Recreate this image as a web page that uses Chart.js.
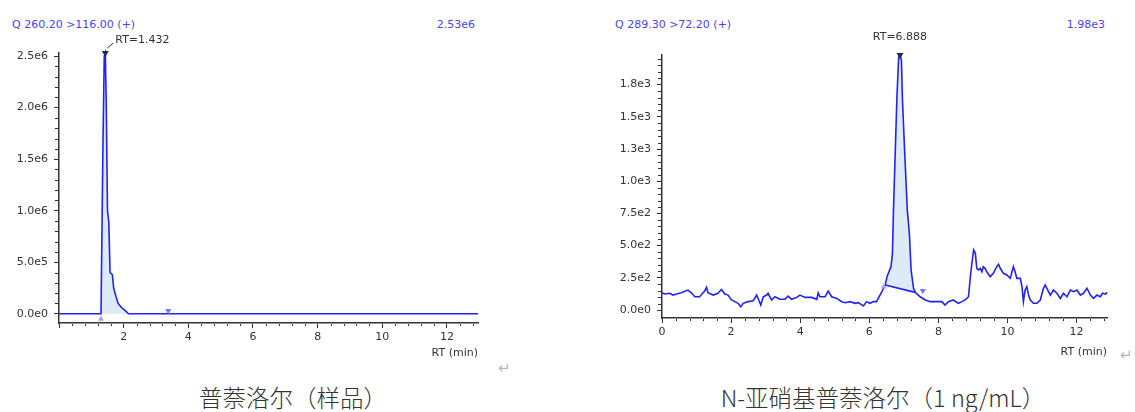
<!DOCTYPE html>
<html lang="zh">
<head>
<meta charset="utf-8">
<title>普萘洛尔 / N-亚硝基普萘洛尔</title>
<script src="https://cdn.jsdelivr.net/npm/chart.js@4.4.1/dist/chart.umd.min.js"></script>
<style>
  html, body { margin: 0; padding: 0; background: #fff; }
  body { position: relative; width: 1135px; height: 412px; overflow: hidden; font-family: "DejaVu Sans", sans-serif; }
  canvas { position: absolute; top: 0; }
  #chartSample { left: 0; }
  #chartStd { left: 600px; }
  .trace-id, .trace-max { position: absolute; top: 18px; font-size: 11px; line-height: 14px; color: #4646f0; white-space: nowrap; }
  .caption { position: absolute; top: 383px; font-family: "Noto Sans CJK SC", sans-serif; font-weight: 300; font-size: 23.5px; line-height: 28px; color: #333; white-space: nowrap; transform: translateX(-50%); }
  .para { position: absolute; font-size: 15px; line-height: 18px; color: #b4b4b4; }
</style>
</head>
<body>
<div class="trace-id" style="left:12px">Q 260.20 &gt;116.00 (+)</div>
<div class="trace-max" style="right:660px">2.53e6</div>
<div class="trace-id" style="left:615px">Q 289.30 &gt;72.20 (+)</div>
<div class="trace-max" style="right:30px">1.98e3</div>

<canvas id="chartSample" width="500" height="365"></canvas>
<canvas id="chartStd" width="535" height="365"></canvas>

<div class="caption" style="left:293px">普萘洛尔（样品）</div>
<div class="caption" style="left:883px">N-亚硝基普萘洛尔（1 ng/mL）</div>
<div class="para" style="left:498px; top:359px">↵</div>
<div class="para" style="left:1120px; top:346px">↵</div>

<script>
// retention-time axis, shared by both traces
const rtTicks = [0, 2, 4, 6, 8, 10, 12];

// ---- 普萘洛尔 (样品), Q 260.20 > 116.00 ----
const sampleTime   = [0, 1.30, 1.33, 1.36, 1.40, 1.432, 1.46, 1.50, 1.54, 1.58, 1.65, 1.69, 1.76, 1.83, 1.93, 2.05, 2.15, 12.96];
const sampleSignal = [0, 0, 0, 1.65e6, 2.50e6, 2.53e6, 2.07e6, 1.0e6, 0.89e6, 0.40e6, 0.38e6, 0.25e6, 0.17e6, 0.10e6, 0.06e6, 0.03e6, 0, 0];
const sampleYTicks = [0, 0.5e6, 1.0e6, 1.5e6, 2.0e6, 2.5e6];
const sampleApex   = [1.432, 2.53e6];
const sampleWindow = [1.33, 2.15];
const sampleFlags  = [[1.30, -0.05e6], [3.38, 0.03e6]];

// ---- N-亚硝基普萘洛尔 (1 ng/mL), Q 289.30 > 72.20 ----
const stdTime = [
  0.00, 0.08, 0.22, 0.32, 0.42, 0.56, 0.75, 0.85, 0.95, 1.09, 1.24, 1.29, 1.33, 1.48, 1.62, 1.72, 1.82, 1.91,
  2.01, 2.11, 2.20, 2.28, 2.35, 2.49, 2.64, 2.74, 2.80, 2.86, 2.93, 3.03, 3.07, 3.17, 3.27, 3.41, 3.56, 3.65,
  3.75, 3.90, 3.99, 4.14, 4.33, 4.48, 4.52, 4.57, 4.72, 4.81, 4.91, 5.06, 5.20, 5.30, 5.44, 5.59, 5.68, 5.83,
  5.92, 6.02, 6.12, 6.21, 6.31, 6.38, 6.46, 6.52, 6.58, 6.63, 6.67, 6.70, 6.75, 6.80, 6.85, 6.888, 6.93, 6.96,
  7.03, 7.10, 7.16, 7.21, 7.28, 7.33, 7.40, 7.47, 7.62, 7.76, 7.95, 8.10, 8.19, 8.29, 8.43, 8.58, 8.68, 8.77,
  8.87, 8.94, 9.02, 9.07, 9.11, 9.16, 9.21, 9.26, 9.30, 9.35, 9.40, 9.50, 9.59, 9.69, 9.74, 9.79, 9.88, 9.98,
  10.08, 10.13, 10.17, 10.22, 10.27, 10.37, 10.42, 10.46, 10.51, 10.56, 10.61, 10.66, 10.75, 10.85, 10.95,
  11.04, 11.09, 11.14, 11.24, 11.33, 11.43, 11.53, 11.62, 11.72, 11.82, 11.91, 12.01, 12.11, 12.20, 12.30,
  12.40, 12.49, 12.59, 12.69, 12.75, 12.84, 12.88
];
const stdSignal = [
  134, 124, 130, 116, 124, 134, 155, 134, 103, 103, 150, 176, 134, 116, 130, 160, 124, 116,
  78, 65, 52, 26, 52, 65, 72, 116, 78, 39, 103, 116, 130, 78, 103, 83, 83, 108,
  83, 98, 116, 98, 98, 83, 134, 103, 103, 147, 103, 90, 65, 57, 65, 52, 57, 31,
  65, 52, 65, 65, 116, 150, 194, 265, 305, 340, 440, 776, 1217, 1656, 1960, 1980, 1940, 1630,
  1190, 776, 595, 310, 168, 137, 120, 103, 78, 65, 65, 65, 39, 65, 78, 52, 65, 78,
  103, 297, 466, 440, 324, 311, 324, 297, 336, 324, 297, 259, 285, 336, 355, 324, 285, 272,
  246, 297, 336, 297, 246, 246, 181, 65, 155, 181, 116, 78, 52, 52, 78,
  168, 194, 168, 116, 155, 130, 90, 130, 103, 155, 142, 155, 116, 130, 168,
  116, 90, 116, 103, 130, 123, 138
];
const stdYTicks   = [0, 250, 500, 750, 1000, 1250, 1500, 1750];
const stdApex     = [6.888, 1980];
const stdBaseline = [[6.46, 194], [7.33, 137]];
const stdFlags    = [[6.42, 180], [7.55, 150]];

const ink = '#333333';
const traceBlue = '#2222f8';
const areaBlue = '#dcebf5';
const tickFont = { family: 'DejaVu Sans', size: 11 };

function toPoints(xs, ys) {
  return xs.map((x, i) => ({ x: x, y: ys[i] }));
}

function inWindow(points, win) {
  return points.filter(p => p.x >= win[0] && p.x <= win[1]);
}

function sci(v) {
  return v.toExponential(1).replace('+', '');
}

// short unlabeled ticks between the numbered ones
const minorTicks = {
  id: 'minorTicks',
  afterDraw(chart, args, opts) {
    const { ctx, chartArea, scales } = chart;
    ctx.save();
    ctx.strokeStyle = ink;
    ctx.lineWidth = 1;
    ctx.beginPath();
    for (let k = 1; k * opts.xStep <= scales.x.max; k++) {
      if (k % opts.xEvery === 0) continue;
      const px = Math.round(scales.x.getPixelForValue(k * opts.xStep)) + 0.5;
      ctx.moveTo(px, chartArea.bottom + 1);
      ctx.lineTo(px, chartArea.bottom + 3);
    }
    for (let k = 1; k * opts.yStep <= scales.y.max; k++) {
      if (k % opts.yEvery === 0) continue;
      const py = Math.round(scales.y.getPixelForValue(k * opts.yStep)) + 0.5;
      ctx.moveTo(chartArea.left - 1, py);
      ctx.lineTo(chartArea.left - 4, py);
    }
    ctx.stroke();
    ctx.restore();
  }
};

// RT label over the apex marker, and the axis name under the x axis
const peakText = {
  id: 'peakText',
  afterDatasetsDraw(chart, args, opts) {
    const { ctx, chartArea } = chart;
    const el = chart.getDatasetMeta(opts.apexDataset).data[0];
    ctx.save();
    ctx.font = '11px "DejaVu Sans"';
    ctx.fillStyle = ink;
    ctx.textBaseline = 'middle';
    if (opts.leader) {
      ctx.strokeStyle = ink;
      ctx.lineWidth = 1;
      ctx.beginPath();
      ctx.moveTo(el.x + 2, el.y - 5);
      ctx.lineTo(el.x + 8, el.y - 10);
      ctx.stroke();
      ctx.textAlign = 'left';
      ctx.fillText(opts.text, el.x + 10, el.y + opts.dy);
    } else {
      ctx.textAlign = 'center';
      ctx.fillText(opts.text, el.x, el.y + opts.dy);
    }
    ctx.textAlign = 'right';
    ctx.fillText('RT (min)', chartArea.right, chartArea.bottom + opts.axisDy);
    ctx.restore();
  }
};

function buildChart(canvasId, cfg) {
  const trace = toPoints(cfg.time, cfg.signal);
  const datasets = [
    { // integrated area
      data: inWindow(trace, cfg.window),
      borderWidth: 0, pointRadius: 0, backgroundColor: areaBlue,
      fill: cfg.baseline ? 2 : 'origin', order: 5
    },
    { // chromatogram
      data: trace,
      borderColor: traceBlue, borderWidth: 1.6, pointRadius: 0, fill: false, order: 2, clip: false
    }
  ];
  if (cfg.baseline) {
    datasets.push({
      data: cfg.baseline.map(p => ({ x: p[0], y: p[1] })),
      borderColor: traceBlue, borderWidth: 1.6, pointRadius: 0, fill: false, order: 3
    });
  }
  datasets.push({ // start / end flags
    data: cfg.flags.map(p => ({ x: p[0], y: p[1] })),
    showLine: false, pointStyle: 'triangle', pointRadius: 3.5,
    rotation: [0, 180], backgroundColor: ['#a4a4f2', '#7878e8'], borderWidth: 0, order: 1, clip: false
  });
  const apexIndex = datasets.length;
  datasets.push({ // apex marker
    data: [{ x: cfg.apex[0], y: cfg.apex[1] }],
    showLine: false, pointStyle: 'triangle', pointRadius: 4, rotation: 180,
    backgroundColor: '#1d2a55', borderWidth: 0, order: 0, clip: false
  });

  return new Chart(document.getElementById(canvasId), {
    type: 'line',
    data: { datasets },
    plugins: [minorTicks, peakText],
    options: {
      responsive: false,
      animation: false,
      events: [],
      layout: { padding: { left: 0, bottom: 0, top: cfg.top, right: cfg.right } },
      plugins: {
        legend: { display: false },
        tooltip: { enabled: false },
        minorTicks: { xStep: 0.4, xEvery: 5, yStep: cfg.yMinor, yEvery: 5 },
        peakText: { apexDataset: apexIndex, text: 'RT=' + cfg.apex[0].toFixed(3), leader: cfg.leader, dy: cfg.labelDy, axisDy: cfg.axisDy }
      },
      scales: {
        x: {
          type: 'linear', min: 0, max: cfg.xMax,
          afterBuildTicks: s => { s.ticks = rtTicks.map(v => ({ value: v })); },
          afterFit: s => { s.height = cfg.xHeight; s.paddingLeft = 0; s.paddingRight = 0; },
          border: { color: ink, width: 1.5 },
          grid: { drawOnChartArea: false, tickLength: 5, tickColor: ink, tickWidth: 1 },
          ticks: {
            autoSkip: false, maxRotation: 0, padding: 3,
            color: ink, font: tickFont,
            callback: v => (v === 0 && !cfg.showZero) ? '' : String(v)
          }
        },
        y: {
          type: 'linear', min: cfg.yMin, max: cfg.yMax,
          afterBuildTicks: s => { s.ticks = cfg.yTicks.map(v => ({ value: v })); },
          afterFit: s => { s.width = cfg.yWidth; s.paddingTop = 0; s.paddingBottom = 0; },
          border: { color: ink, width: 1.5 },
          grid: { drawOnChartArea: false, tickLength: 5, tickColor: ink, tickWidth: 1 },
          ticks: {
            autoSkip: false, padding: 6,
            color: ink, font: tickFont,
            callback: v => sci(v)
          }
        }
      }
    }
  });
}

buildChart('chartSample', {
  time: sampleTime, signal: sampleSignal, apex: sampleApex, window: sampleWindow, flags: sampleFlags,
  baseline: null, showZero: false, leader: true, labelDy: -13, axisDy: 30,
  xMax: 12.96, yMin: -0.09e6, yMax: 2.53e6, yTicks: sampleYTicks, yMinor: 0.1e6,
  top: 53, right: 22, xHeight: 42, yWidth: 59
});

buildChart('chartStd', {
  time: stdTime, signal: stdSignal, apex: stdApex, window: [stdBaseline[0][0], stdBaseline[1][0]], flags: stdFlags,
  baseline: stdBaseline, showZero: true, leader: false, labelDy: -18, axisDy: 34,
  xMax: 12.88, yMin: -62, yMax: 1980, yTicks: stdYTicks, yMinor: 50,
  top: 55, right: 28, xHeight: 47, yWidth: 62
});
</script>
</body>
</html>
